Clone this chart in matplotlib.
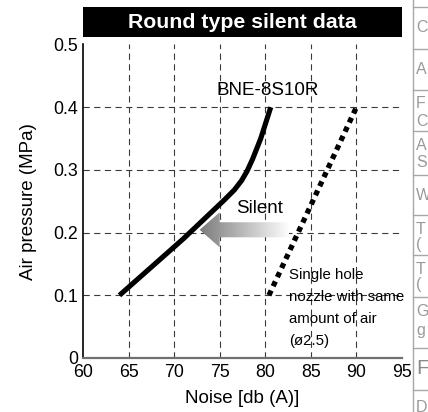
import matplotlib
matplotlib.use("Agg")
import matplotlib.pyplot as plt
import numpy as np
from matplotlib import font_manager
from matplotlib.patches import Polygon, Rectangle
from matplotlib.colors import LinearSegmentedColormap

plt.rcParams["font.family"] = ["Liberation Sans", "DejaVu Sans"]

# data
silent_noise = [64.0, 71.0, 75.5, 76.6, 77.4, 78.0, 78.6, 79.5, 80.6]
silent_pressure = [0.100, 0.190, 0.252, 0.268, 0.283, 0.298, 0.317, 0.350, 0.400]
single_noise = [80.4, 90.0]
single_pressure = [0.10, 0.40]

x_ticks = [60, 65, 70, 75, 80, 85, 90, 95]
y_ticks = [0, 0.1, 0.2, 0.3, 0.4, 0.5]
y_tick_labels = ["0", "0.1", "0.2", "0.3", "0.4", "0.5"]

# cropped table visible at the right border of the source image
table_rows = [7, 49, 90, 131, 175, 215, 255, 297, 348, 390]
table_letters = [("C", 28), ("A", 70), ("F", 104), ("C", 121), ("A", 145),
                 ("S", 163), ("W", 196), ("T", 229), ("(", 245), ("T", 269),
                 ("(", 285), ("G", 312), ("g", 331), ("D", 408)]

# condensed face for the note, if one is installed
names = {f.name for f in font_manager.fontManager.ttflist}
if "Liberation Sans Narrow" in names:
    note_family, note_size, note_spacing = "Liberation Sans Narrow", 12.5, 1.12
else:
    note_family, note_size, note_spacing = "Liberation Sans", 10.8, 1.72

W, H = 428, 412
fig = plt.figure(figsize=(W / 100, H / 100), dpi=100)
ax = fig.add_axes([83 / W, 1 - 358 / H, 319 / W, 313.5 / H])

ax.set_xlim(60, 95)
ax.set_ylim(0, 0.5)

# dashed grid, no line at the outer limits
grid_kw = dict(color="#3a3a3a", linewidth=0.8, linestyles=(0, (5.6, 4.0)), zorder=1)
ax.vlines(x_ticks[1:-1], 0, 0.5, **grid_kw)
ax.hlines(y_ticks[1:-1], 60, 95, **grid_kw)

ax.plot(silent_noise, silent_pressure, color="black", linewidth=3.7,
        solid_capstyle="butt", solid_joinstyle="round", zorder=3)
ax.plot(single_noise, single_pressure, color="black", linewidth=3.8,
        dashes=(1.0, 0.9), dash_capstyle="butt", zorder=3)

# gradient "silent" arrow
tip_x, tip_y = 72.8, 0.2045
head_len, head_h, body_h, tail_x = 2.2, 0.028, 0.012, 82.6
arrow = Polygon([(tip_x, tip_y), (tip_x + head_len, tip_y + head_h),
                 (tip_x + head_len, tip_y + body_h), (tail_x, tip_y + body_h),
                 (tail_x, tip_y - body_h), (tip_x + head_len, tip_y - body_h),
                 (tip_x + head_len, tip_y - head_h)],
                closed=True, facecolor="none", edgecolor="none")
ax.add_patch(arrow)
cmap = LinearSegmentedColormap.from_list("fade", ["#7c7c7c", "#bdbdbd", "#ffffff"])
grad = np.linspace(0, 1, 256).reshape(1, -1)
im = ax.imshow(grad, cmap=cmap, aspect="auto", interpolation="bilinear",
               extent=[tip_x, tail_x, tip_y - head_h, tip_y + head_h], zorder=2)
im.set_clip_path(arrow)
ax.set_xlim(60, 95)
ax.set_ylim(0, 0.5)

ax.text(80.3, 0.427, "BNE-8S10R", ha="center", va="center", fontsize=13.5)
ax.text(79.4, 0.239, "Silent", ha="center", va="center", fontsize=13.5)
ax.text(82.6, 0.143, "Single hole\nnozzle with same\namount of air\n(ø2.5)",
        ha="left", va="top", fontsize=note_size, linespacing=note_spacing,
        family=[note_family, "DejaVu Sans"], zorder=4)

ax.set_xticks(x_ticks)
ax.set_yticks(y_ticks)
ax.set_yticklabels(y_tick_labels)
ax.tick_params(length=0, labelsize=12.8, pad=3.5)
ax.tick_params(axis="x", pad=4.5)

for side in ("top", "right"):
    ax.spines[side].set_visible(False)
ax.spines["left"].set_color("black")
ax.spines["left"].set_linewidth(1.2)
ax.spines["bottom"].set_color("#707070")
ax.spines["bottom"].set_linewidth(1.6)

ax.set_xlabel("Noise [db (A)]", fontsize=13.5)
ax.set_ylabel("Air pressure (MPa)", fontsize=13.5)
ax.xaxis.set_label_coords(0.5, -0.103)
ax.yaxis.set_label_coords(-0.145, 0.5)

# black title bar
fig.patches.append(Rectangle((83 / W, 1 - 37 / H), 319 / W, 30 / H,
                             transform=fig.transFigure, facecolor="black",
                             edgecolor="none"))
fig.text(242.5 / W, 1 - 22 / H, "Round type silent data", color="white",
         fontsize=15.3, fontweight="bold", ha="center", va="center")

# cropped table on the right border
tx = 413 / W
fig.add_artist(plt.Line2D([tx, tx], [0, 1], transform=fig.transFigure,
                          color="#a8a8a8", linewidth=1))
for yy in table_rows:
    fig.add_artist(plt.Line2D([tx, 1], [1 - yy / H] * 2, transform=fig.transFigure,
                              color="#a8a8a8", linewidth=1))
for letter, yy in table_letters:
    fig.text(416 / W, 1 - yy / H, letter, color="#9a9a9a", fontsize=11.5,
             ha="left", va="center")
fig.text(416 / W, 1 - 369 / H, "F", color="#8a8a8a", fontsize=15,
         ha="left", va="center")

fig.savefig("out.png", dpi=100)
plt.close(fig)
